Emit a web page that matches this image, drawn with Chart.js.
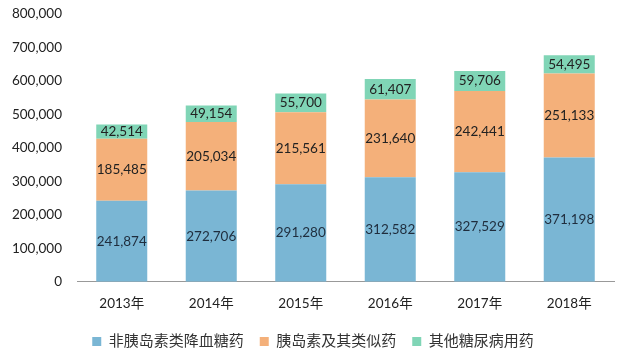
<!DOCTYPE html>
<html><head><meta charset="utf-8">
<script src="https://cdn.jsdelivr.net/npm/chart.js@4.4.0/dist/chart.umd.min.js"></script>
<style>html,body{margin:0;padding:0;background:#fff}#w{width:625px;height:359px}</style>
</head><body><div id="w"><canvas id="c"></canvas></div>
<script>
const categories = ['2013年','2014年','2015年','2016年','2017年','2018年'];
const nonInsulin = [241874,272706,291280,312582,327529,371198];
const insulin = [185485,205034,215561,231640,242441,251133];
const others = [42514,49154,55700,61407,59706,54495];
const seriesNames = ['非胰岛素类降血糖药','胰岛素及其类似药','其他糖尿病用药'];
const yTicks = [0,100000,200000,300000,400000,500000,600000,700000,800000];

const FONT = 'Lato,"Noto Sans CJK SC",sans-serif';
const labelPlugin = {
  id:'lbl',
  afterDatasetsDraw(chart){
    const ctx = chart.ctx;
    ctx.save();
    ctx.font = '13.5px ' + FONT;
    ctx.textAlign='center';ctx.textBaseline='middle';
    chart.data.datasets.forEach((ds,i)=>{
      const meta = chart.getDatasetMeta(i);
      meta.data.forEach((bar,j)=>{
        const v = ds.data[j];
        const y = (bar.y + bar.base)/2;
        ctx.fillStyle = i===0 ? '#1f2d3d' : '#222';
        ctx.fillText(v.toLocaleString('en-US'), bar.x, y);
      });
    });
    ctx.restore();
  }
};

new Chart(document.getElementById('c'),{
  type:'bar',
  data:{labels:categories,datasets:[
    {label:seriesNames[0],data:nonInsulin,backgroundColor:'#7ab6d4'},
    {label:seriesNames[1],data:insulin,backgroundColor:'#f4b07a'},
    {label:seriesNames[2],data:others,backgroundColor:'#80d5b6'}
  ]},
  options:{
    responsive:true,maintainAspectRatio:false,animation:false,
    layout:{padding:{left:12,right:11,top:14,bottom:0}},
    datasets:{bar:{categoryPercentage:1,barPercentage:0.57}},
    plugins:{
      legend:{position:'bottom',labels:{boxWidth:9,boxHeight:9,padding:16,color:'#333',font:{family:FONT,size:15}}},
      tooltip:{enabled:false}
    },
    scales:{
      x:{stacked:true,grid:{display:false},border:{display:true,color:'#999'},
         ticks:{color:'#222',padding:6,font:{family:FONT,size:13.5}}},
      y:{stacked:true,min:0,max:800000,grid:{display:false,drawTicks:false},border:{display:false},
         afterBuildTicks(s){s.ticks=yTicks.map(v=>({value:v}));},
         afterFit(s){s.width=65;s.paddingTop=0;},
         ticks:{color:'#222',padding:15,font:{family:FONT,size:13.5},callback:v=>v.toLocaleString('en-US')}}
    }
  },
  plugins:[labelPlugin]
});
</script></body></html>
